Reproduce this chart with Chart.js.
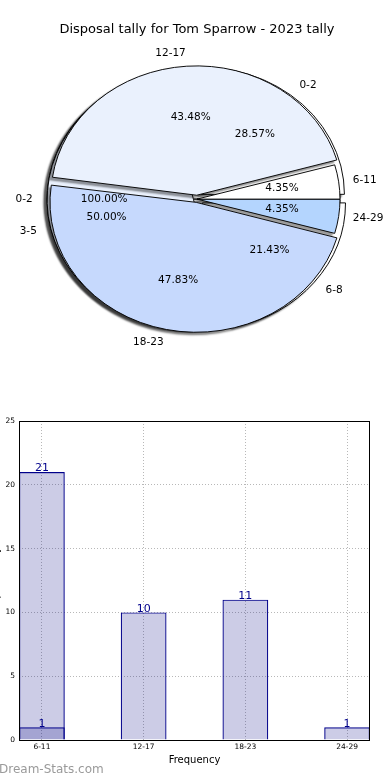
<!DOCTYPE html>
<html><head><meta charset="utf-8">
<script src="https://cdn.jsdelivr.net/npm/chart.js@4.4.1/dist/chart.umd.min.js"></script>
<style>
html,body{margin:0;padding:0;background:#fff;width:390px;height:780px;overflow:hidden;}
#wrap{position:relative;width:390px;height:780px;overflow:hidden;background:#fff;}
.pie{position:absolute;left:0;top:0;width:390px;height:400px;}
#barBox{position:absolute;left:-10px;top:400px;width:400px;height:380px;}
</style></head><body>
<div id="wrap">
<div class="pie"><canvas id="pie3"></canvas></div>
<div class="pie"><canvas id="pie2"></canvas></div>
<div class="pie"><canvas id="pie1"></canvas></div>
<div id="barBox"><canvas id="bar"></canvas></div>
</div>
<script>
// ---------- data ----------
const chartTitle = 'Disposal tally for Tom Sparrow - 2023 tally';
const categories = ['6-11', '12-17', '18-23', '24-29'];
const pieMainValues = [1, 10, 11, 1];          // 4.35%, 43.48%, 47.83%, 4.35%
const pieAgeLabels = ['0-2', '3-5', '6-8'];
const pieAgeValues = [4, 7, 3];                // 28.57%, 50.00%, 21.43%
const pieAllLabels = ['0-2'];
const pieAllValues = [1];                      // 100.00%
const barSeriesA = [1, 10, 11, 1];
const barSeriesB = [21, null, null, null];
const yTicks = [0, 5, 10, 15, 20, 25];
const xAxisTitle = 'Frequency';
const yAxisTitle = 'Disposal Tally';
const watermark = 'Dream-Stats.com';

// ---------- styles ----------
const pieMainColors = ['#ffffff', '#eaf1fd', '#c6d9fd', '#b4d5fe'];
const pieAgeColors = ['#ffffff', '#eaf1fd', '#ffffff'];
const pieAllColors = ['#ffffff'];
const pieMainShift = [0, 7, 7, 0];
const pieAgeShift = [7, 7, 7];
const pieAllShift = [7];

Chart.defaults.font.family = '"DejaVu Sans", sans-serif';
const R = 143;
const SY = 127 / 143;

function shiftFactor(circ) {
  const fix = 1 - Math.sin(Math.min(Math.PI, circ || 0));
  return (1 + fix) / 4;
}

const ellipsePlugin = {
  id: 'ellipse',
  beforeDatasetsDraw(chart) {
    const ctx = chart.ctx;
    const meta = chart.getDatasetMeta(0);
    const a = meta.data[0];
    const cx = a.x, cy = a.y;
    ctx.save();
    ctx.translate(cx, cy); ctx.scale(1, SY); ctx.translate(-cx, -cy);
    const K = 3000;
    ctx.save();
    ctx.shadowColor = 'rgba(0,0,0,0.4)';
    ctx.shadowBlur = 2;
    ctx.shadowOffsetX = K - 3;
    ctx.shadowOffsetY = 2.5;
    ctx.translate(-K, 0);
    meta.data.forEach(el => el.draw(ctx));
    ctx.restore();
  },
  afterDatasetsDraw(chart) {
    chart.ctx.restore();
  }
};

function drawPieLabels(ctx, chart) {
  const meta = chart.getDatasetMeta(0);
  const vals = chart.data.datasets[0].data;
  const total = vals.reduce((s, v) => s + v, 0);
  meta.data.forEach((arc, i) => {
    const p = arc.getProps(['x', 'y', 'startAngle', 'endAngle', 'circumference'], true);
    const mid = (p.startAngle + p.endAngle) / 2;
    const d = (arc.options.offset || 0) * shiftFactor(p.circumference);
    const pt = rho => ({ x: p.x + (rho + d) * Math.cos(mid), y: p.y + (rho + d) * Math.sin(mid) * SY });
    const lp = pt(1.1 * R);
    ctx.textAlign = Math.cos(mid) >= 0 ? 'left' : 'right';
    ctx.fillText(chart.data.labels[i], lp.x, lp.y);
    const pp = pt(0.6 * R);
    ctx.textAlign = 'center';
    ctx.fillText((vals[i] / total * 100).toFixed(2) + '%', pp.x, pp.y);
  });
}

// texts of all three pies are drawn on the top chart, above every wedge
const pieLabelPlugin = {
  id: 'pieLabels',
  afterDraw(chart) {
    const ctx = chart.ctx;
    ctx.save();
    ctx.fillStyle = '#000';
    ctx.font = '10.5px "DejaVu Sans"';
    ctx.textBaseline = 'middle';
    ['pie3', 'pie2'].forEach(id => {
      const other = Chart.getChart(id);
      if (other) drawPieLabels(ctx, other);
    });
    drawPieLabels(ctx, chart);
    ctx.restore();
  }
};

function makePie(id, labels, values, colors, shifts, isTop) {
  const L = labels.slice().reverse();
  const V = values.slice().reverse();
  const C = colors.slice().reverse();
  const S = shifts.slice().reverse();
  const total = V.reduce((s, v) => s + v, 0);
  return new Chart(document.getElementById(id), {
    type: 'pie',
    data: {
      labels: L,
      datasets: [{
        data: V,
        backgroundColor: C,
        borderColor: '#000',
        borderWidth: 1,
        clip: false,
        offset: (c) => {
          if (c.type !== 'data') return 0;
          const circ = V[c.dataIndex] / total * 2 * Math.PI;
          return S[c.dataIndex] / shiftFactor(circ);
        }
      }]
    },
    options: {
      responsive: true, maintainAspectRatio: false, animation: false,
      rotation: 90, radius: R,
      events: [],
      layout: { padding: { left: 4, right: 0, top: 0, bottom: 39.6 } },
      plugins: {
        legend: { display: false },
        tooltip: { enabled: false },
        title: {
          display: true, text: chartTitle,
          color: isTop ? '#000' : 'rgba(0,0,0,0)',
          font: { size: 13, weight: 'normal' },
          padding: { top: 22.2, bottom: 0 }
        }
      }
    },
    plugins: isTop ? [ellipsePlugin, pieLabelPlugin] : [ellipsePlugin]
  });
}

makePie('pie3', pieAllLabels, pieAllValues, pieAllColors, pieAllShift, false);
makePie('pie2', pieAgeLabels, pieAgeValues, pieAgeColors, pieAgeShift, false);
makePie('pie1', categories, pieMainValues, pieMainColors, pieMainShift, true);

// ---------- bar chart ----------
const barFill = 'rgba(0,0,128,0.2)';
const barEdge = '#00008b';

const barExtras = {
  id: 'barExtras',
  afterDatasetsDraw(chart) {
    const ctx = chart.ctx;
    ctx.save();
    ctx.fillStyle = '#00008b';
    ctx.font = '11px "DejaVu Sans"';
    ctx.textAlign = 'center';
    ctx.textBaseline = 'bottom';
    chart.data.datasets.forEach((ds, di) => {
      chart.getDatasetMeta(di).data.forEach((el, i) => {
        const v = ds.data[i].y;
        if (v == null) return;
        ctx.fillText(String(v), el.x, el.y + 2);
      });
    });
    ctx.restore();
  },
  afterDraw(chart) {
    const ctx = chart.ctx, a = chart.chartArea;
    ctx.save();
    ctx.strokeStyle = '#000';
    ctx.lineWidth = 1;
    ctx.strokeRect(Math.round(a.left) + 0.5, Math.round(a.top) + 0.5,
      Math.round(a.right - a.left) - 1, Math.round(a.bottom - a.top));
    ctx.fillStyle = '#9a9a9a';
    ctx.font = '12px "DejaVu Sans"';
    ctx.textAlign = 'left';
    ctx.textBaseline = 'middle';
    ctx.fillText(watermark, 9, 370);
    ctx.restore();
  }
};

new Chart(document.getElementById('bar'), {
  type: 'bar',
  data: {
    datasets: [
      {
        data: categories.map((c, i) => ({ x: i, y: barSeriesA[i] })),
        backgroundColor: barFill, borderColor: barEdge, borderWidth: 1.2
      },
      {
        data: categories.map((c, i) => ({ x: i, y: barSeriesB[i] })).filter(p => p.y != null),
        backgroundColor: barFill, borderColor: barEdge, borderWidth: 1.2
      }
    ]
  },
  options: {
    responsive: true, maintainAspectRatio: false, animation: false,
    events: [],
    layout: { padding: { top: 21, right: 20, bottom: 12, left: 0 } },
    datasets: { bar: { grouped: false, categoryPercentage: 1, barPercentage: 0.45 } },
    plugins: { legend: { display: false }, tooltip: { enabled: false } },
    scales: {
      x: {
        type: 'linear', min: -0.225, max: 3.225, offset: false,
        afterBuildTicks: s => { s.ticks = categories.map((c, i) => ({ value: i })); },
        afterFit: s => { s.height = 28; },
        ticks: {
          callback: v => categories[v], color: '#000', font: { size: 7.5 },
          padding: 3, autoSkip: false, maxRotation: 0
        },
        grid: { color: '#b8b8b8', drawTicks: false, offset: false },
        border: { display: false, dash: [1, 2] },
        title: {
          display: true, text: xAxisTitle, color: '#000',
          font: { size: 10 }, padding: { top: 0, bottom: 2 }
        }
      },
      y: {
        min: 0, max: 25,
        afterBuildTicks: s => { s.ticks = yTicks.map(v => ({ value: v })); },
        afterFit: s => { s.width = 29; },
        ticks: { color: '#000', font: { size: 7.5 }, padding: 4 },
        grid: { color: '#b8b8b8', drawTicks: false },
        border: { display: false, dash: [1, 2] },
        title: {
          display: true, text: yAxisTitle, color: '#000',
          font: { size: 10 }, padding: { top: 0.5, bottom: 0 }
        }
      }
    }
  },
  plugins: [barExtras]
});
</script>
</body></html>
